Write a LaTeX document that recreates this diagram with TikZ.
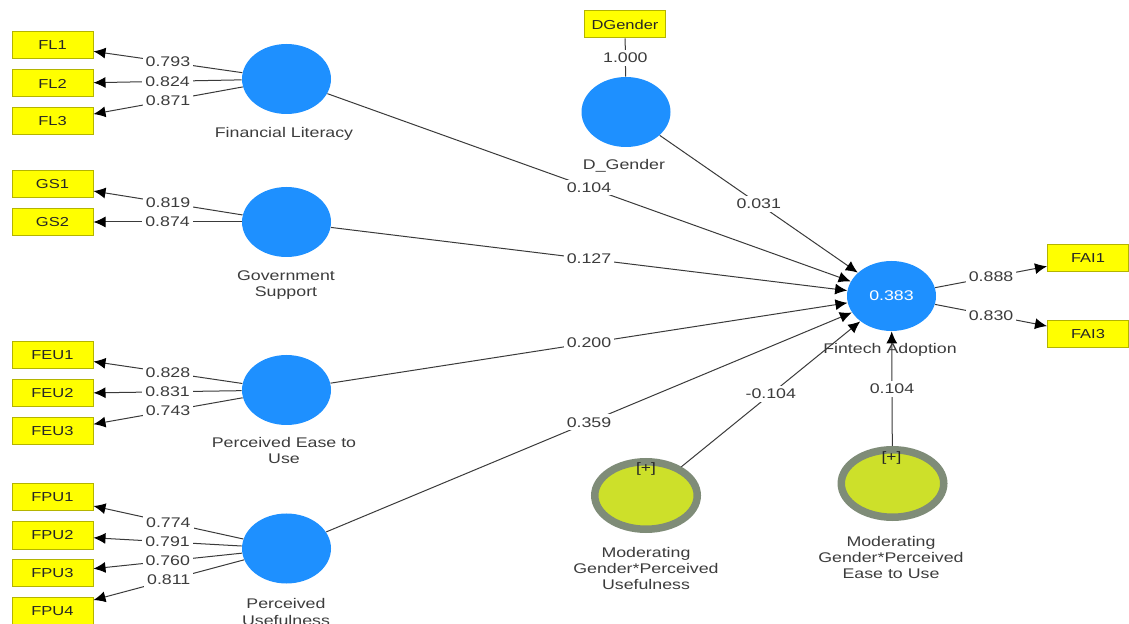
\documentclass[tikz,border=0pt]{standalone}
\usepackage{fontspec}
\setmainfont{Liberation Sans}[FakeStretch=1.27]
\usetikzlibrary{shapes.geometric,arrows.meta}
\definecolor{lvblue}{HTML}{1E90FF}
\definecolor{indyellow}{HTML}{FFFF00}
\definecolor{indborder}{HTML}{B4B400}
\definecolor{modfill}{HTML}{CDE02A}
\definecolor{modring}{HTML}{7F8C78}
\definecolor{linegray}{HTML}{3A3A3A}
\definecolor{txtgray}{HTML}{3C3C3C}
\begin{document}
\begin{tikzpicture}[x=0.5pt,y=-0.5pt,
  ind/.style={draw=indborder, line width=0.5pt, fill=indyellow, minimum width=40.5pt, minimum height=13.5pt, inner sep=0pt, font=\fontsize{6.5}{7.5}\selectfont, text=black!85},
  lv/.style={ellipse, fill=lvblue, minimum width=44.5pt, minimum height=35pt, inner sep=0pt},
  modlv/.style={ellipse, draw=modring, line width=3.75pt, fill=modfill, minimum width=51.25pt, minimum height=33.75pt, inner sep=0pt},
  lbl/.style={font=\fontsize{7}{8.2}\selectfont, text=txtgray, align=center},
  plus/.style={font=\fontsize{6.8}{7.5}\selectfont, text=black!85},
  num/.style={font=\fontsize{7}{8}\selectfont, text=txtgray, fill=white, inner sep=1.5pt},
  conn/.style={draw=linegray, line width=0.5pt},
  arr/.style={conn, -{Latex[length=6pt,width=5.5pt,black]}}
]
\useasboundingbox (0,0) rectangle (1129,624);
\clip (0,0) rectangle (1129,624);
% latent variables
\node[lv] (fl) at (286.5,79) {};
\node[lv] (gs) at (286.5,222) {};
\node[lv] (feu) at (286.5,390) {};
\node[lv] (fpu) at (286.5,548.5) {};
\node[lv] (dg) at (626,112) {};
\node[lv, text=white, font=\fontsize{7}{8}\selectfont] (fa) at (891.5,296) {0.383};
\node[modlv] (m1) at (646,495.5) {};
\node[modlv] (m2) at (892.5,483.5) {};
\node[plus] (p1) at (646,469) {[+]};
\node[plus] (p2) at (891.5,457.5) {[+]};
% labels
\node[lbl] (tfl) at (284,134) {Financial Literacy};
\node[lbl] (tgs) at (286,285) {Government\\Support};
\node[lbl] (tfeu) at (284,450.5) {Perceived Ease to\\Use};
\node[lbl] (tfpu) at (286,612) {Perceived\\Usefulness};
\node[lbl] (tdg) at (624,166) {D\_Gender};
\node[lbl] (tfa) at (890,350) {Fintech Adoption};
\node[lbl] (tm1) at (646,568.5) {Moderating\\Gender*Perceived\\Usefulness};
\node[lbl] (tm2) at (891,557.5) {Moderating\\Gender*Perceived\\Ease to Use};
% indicators
\node[ind] (FL1) at (52.5,45.5) {FL1};
\node[ind] (FL2) at (52.5,83.5) {FL2};
\node[ind] (FL3) at (52.5,121.5) {FL3};
\node[ind] (GS1) at (52.5,184.5) {GS1};
\node[ind] (GS2) at (52.5,222) {GS2};
\node[ind] (FEU1) at (52.5,355.5) {FEU1};
\node[ind] (FEU2) at (52.5,393.5) {FEU2};
\node[ind] (FEU3) at (52.5,431.5) {FEU3};
\node[ind] (FPU1) at (52.5,497) {FPU1};
\node[ind] (FPU2) at (52.5,535.5) {FPU2};
\node[ind] (FPU3) at (52.5,573) {FPU3};
\node[ind] (FPU4) at (52.5,611) {FPU4};
\node[ind] (DG) at (625,24.5) {DGender};
\node[ind] (FAI1) at (1088,258.5) {FAI1};
\node[ind] (FAI3) at (1088,334) {FAI3};
% outer loadings
\draw[arr] (fl) -- node[num] {0.793} (FL1);
\draw[arr] (fl) -- node[num] {0.824} (FL2);
\draw[arr] (fl) -- node[num] {0.871} (FL3);
\draw[arr] (gs) -- node[num] {0.819} (GS1);
\draw[arr] (gs) -- node[num] {0.874} (GS2);
\draw[arr] (feu) -- node[num] {0.828} (FEU1);
\draw[arr] (feu) -- node[num] {0.831} (FEU2);
\draw[arr] (feu) -- node[num] {0.743} (FEU3);
\draw[arr] (fpu) -- node[num] {0.774} (FPU1);
\draw[arr] (fpu) -- node[num] {0.791} (FPU2);
\draw[arr] (fpu) -- node[num] {0.760} (FPU3);
\draw[arr] (fpu) -- node[num] {0.811} (FPU4);
\draw[conn] (DG) -- node[num] {1.000} (dg);
\draw[arr] (fa) -- node[num] {0.888} (FAI1);
\draw[arr] (fa) -- node[num] {0.830} (FAI3);
% structural paths
\draw[arr] (fl) -- node[num] {0.104} (fa);
\draw[arr] (gs) -- node[num] {0.127} (fa);
\draw[arr] (feu) -- node[num] {0.200} (fa);
\draw[arr] (fpu) -- node[num] {0.359} (fa);
\draw[arr] (dg) -- node[num] {0.031} (fa);
\draw[arr] (m1) -- node[num] {-0.104} (fa);
\draw[arr] (m2) -- node[num] {0.104} (fa);
\end{tikzpicture}
\end{document}
